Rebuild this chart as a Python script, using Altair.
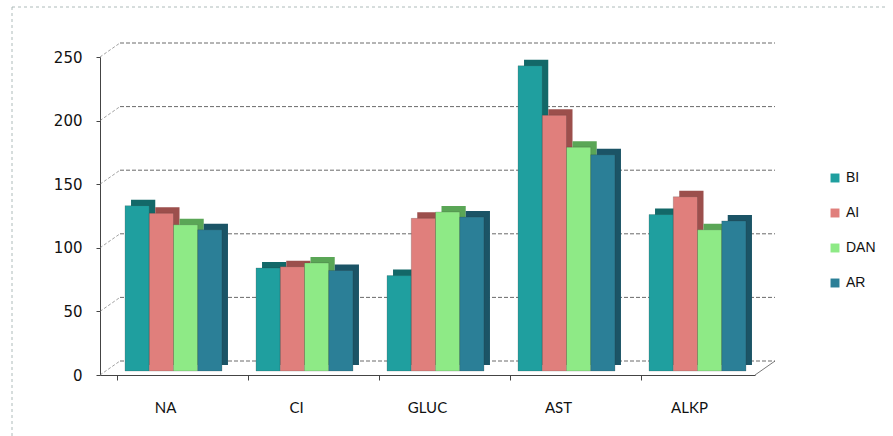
import altair as alt
import pandas as pd

categories = ["NA", "CI", "GLUC", "AST", "ALKP"]
series = ["BI", "AI", "DAN", "AR"]
BI = [130, 81, 75, 240, 123]
AI = [124, 82, 120, 201, 137]
DAN = [115, 85, 125, 176, 111]
AR = [111, 79, 121, 170, 118]
colors = ["#1f9f9f", "#e07f7c", "#8eea86", "#2b7f97"]
dark_colors = ["#136868", "#9c4f4c", "#5aa656", "#1b5466"]
y_ticks = [0, 50, 100, 150, 200, 250]

rows = []
for name, vals in zip(series, [BI, AI, DAN, AR]):
    for c, v in zip(categories, vals):
        rows.append({"cat": c, "series": name, "value": v})
df = pd.DataFrame(rows)
grid = pd.DataFrame({"g": y_ticks})

W, H = 655, 318
DX, DY = 20, 14  # depth of the back wall
PI, PO = 0.26, 0.13
step = W / (len(categories) - PI + 2 * PO)
bw = step * (1 - PI)
SHIFT = 8

yscale = alt.Scale(domain=[0, 250], nice=False)
yaxis = alt.Axis(values=y_ticks, grid=False, labelFont="DejaVu Sans", labelFontSize=15,
                 labelColor="#111111", labelPadding=14, domainColor="#444444",
                 tickColor="#444444", tickSize=4)

gridlines = alt.Chart(grid).mark_rule(color="#444444", strokeDash=[4, 2], strokeWidth=0.8).encode(
    y=alt.Y("g:Q", scale=yscale, title=None, axis=yaxis),
    x=alt.value(DX), x2=alt.value(W + DX),
    yOffset=alt.value(-DY),
)
connectors = alt.Chart(grid).mark_rule(color="#777777", strokeDash=[3, 2], strokeWidth=0.7,
                                       x2Offset=DX, y2Offset=-DY).encode(
    y=alt.Y("g:Q", scale=yscale),
    y2=alt.Y2("g"),
    x=alt.value(0), x2=alt.value(0),
)
floor_right = alt.Chart(grid.head(1)).mark_rule(color="#555555", strokeWidth=0.8,
                                                x2Offset=DX, y2Offset=-DY).encode(
    y=alt.Y("g:Q", scale=yscale), y2=alt.Y2("g"),
    x=alt.value(W), x2=alt.value(W),
)
border_left = alt.Chart(grid.head(1)).mark_rule(color="#9aaaa8", strokeDash=[3, 3], strokeWidth=0.8).encode(
    x=alt.value(-88), y=alt.value(-50), y2=alt.value(H + 61),
)
border_top = alt.Chart(grid.head(1)).mark_rule(color="#9aaaa8", strokeDash=[3, 3], strokeWidth=0.8).encode(
    x=alt.value(-88), x2=alt.value(W + 133), y=alt.value(-50),
)

xenc = alt.X("cat:N", sort=categories, title=None,
             scale=alt.Scale(paddingInner=PI, paddingOuter=PO),
             axis=alt.Axis(labelAngle=0, labelFont="Lato", labelFontSize=15,
                           labelColor="#111111", labelPadding=20, domainColor="#444444",
                           tickColor="#444444", tickSize=5, ticks=True, bandPosition=0))

sides = alt.Chart(df).mark_bar(yOffset=-10).encode(
    x=xenc,
    xOffset=alt.XOffset("series:N", sort=series,
                        scale=alt.Scale(range=[SHIFT + 6, SHIFT + 6 + bw])),
    y=alt.Y("value:Q", scale=yscale),
    color=alt.Color("series:N", sort=series, scale=alt.Scale(domain=series, range=dark_colors),
                    legend=None),
)

bars = alt.Chart(df).mark_bar(yOffset=-4, stroke="#333333", strokeWidth=0.4, strokeOpacity=0.5).encode(
    x=xenc,
    xOffset=alt.XOffset("series:N", sort=series,
                        scale=alt.Scale(range=[SHIFT, SHIFT + bw])),
    y=alt.Y("value:Q", scale=yscale),
    color=alt.Color("series:N", sort=series, scale=alt.Scale(domain=series, range=colors),
                    legend=alt.Legend(title=None, orient="none", legendX=728, legendY=114,
                                      symbolType="square", symbolSize=80, labelFontSize=14,
                                      labelFont="Liberation Sans", rowPadding=21,
                                      labelColor="#111111", symbolStrokeWidth=0)),
)

chart = alt.layer(gridlines, connectors, floor_right, border_left, border_top, sides, bars).resolve_scale(
    color="independent", xOffset="independent"
).properties(
    width=W, height=H,
    autosize=alt.AutoSizeParams(type="none"),
    padding={"left": 100, "top": 57, "right": 138, "bottom": 61},
    background="white",
).configure_view(stroke=None)

chart.save("out.html", embed_options={"renderer": "svg", "actions": False})
